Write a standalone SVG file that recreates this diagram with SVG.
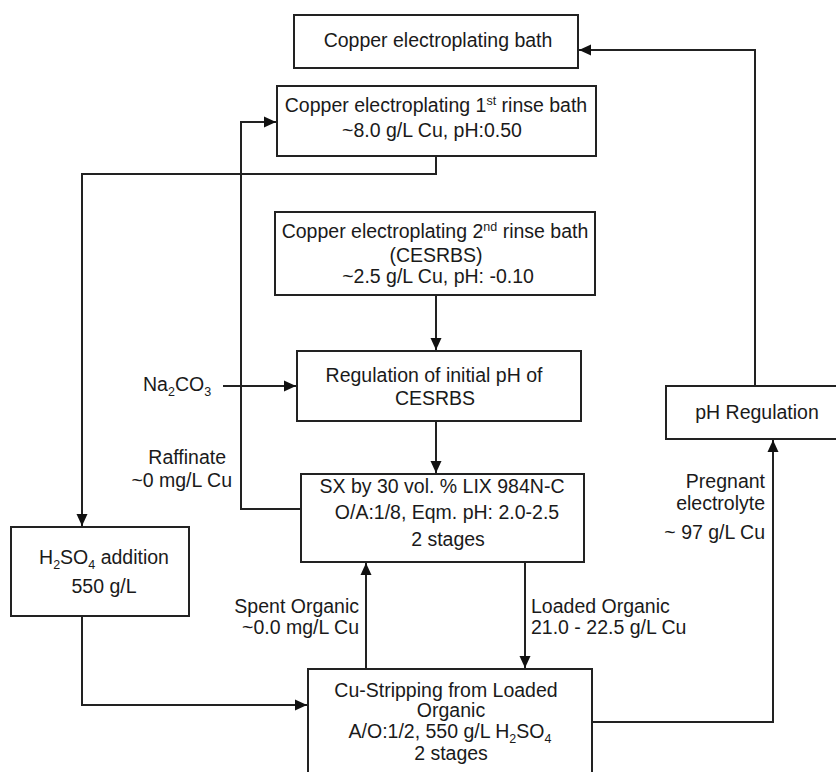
<svg xmlns="http://www.w3.org/2000/svg" width="836" height="772" viewBox="0 0 836 772">
<style>
.box{fill:#fff;stroke:#222;stroke-width:2}
.t{font-family:"Liberation Sans",Arial,sans-serif;font-size:19.5px;fill:#1a1a1a}
.c{text-anchor:middle}
.e{text-anchor:end}
.sm{font-size:12.5px}
.con{fill:none;stroke:#222;stroke-width:2}
</style>
<defs>
<marker id="ah" markerUnits="userSpaceOnUse" viewBox="0 0 12 12" refX="12" refY="6" markerWidth="12" markerHeight="12" orient="auto">
<path d="M0,0.5 L12,6 L0,11.5 z" fill="#111"/>
</marker>
</defs>
<rect width="836" height="772" fill="#fff"/>
<g id="connectors">
<polyline class="con" points="436,156 436,174 82,174 82,526" marker-end="url(#ah)"/>
<polyline class="con" points="82,616 82,705 307,705" marker-end="url(#ah)"/>
<polyline class="con" points="301,509 241,509 241,122 276,122" marker-end="url(#ah)"/>
<polyline class="con" points="436,295 436,350" marker-end="url(#ah)"/>
<polyline class="con" points="223,386 296,386" marker-end="url(#ah)"/>
<polyline class="con" points="436,421 436,473" marker-end="url(#ah)"/>
<polyline class="con" points="366,669 366,563" marker-end="url(#ah)"/>
<polyline class="con" points="525,562 525,668" marker-end="url(#ah)"/>
<polyline class="con" points="592,722 773,722 773,440" marker-end="url(#ah)"/>
<polyline class="con" points="755,386 755,50 579,50" marker-end="url(#ah)"/>
</g>
<g id="bath">
<rect class="box" x="294" y="15" width="284" height="53"/>
<text class="t c" x="438" y="47">Copper electroplating bath</text>
</g>
<g id="rinse1">
<rect class="box" x="277" y="86" width="319" height="70"/>
<text class="t c" x="436" y="112">Copper electroplating 1<tspan class="sm" dy="-7">st</tspan><tspan dy="7"> rinse bath</tspan></text>
<text class="t c" x="432" y="137">~8.0 g/L Cu, pH:0.50</text>
</g>
<g id="rinse2">
<rect class="box" x="275" y="212" width="320" height="83"/>
<text class="t c" x="435" y="238">Copper electroplating 2<tspan class="sm" dy="-7">nd</tspan><tspan dy="7"> rinse bath</tspan></text>
<text class="t c" x="436" y="262">(CESRBS)</text>
<text class="t c" x="438" y="283">~2.5 g/L Cu, pH: -0.10</text>
</g>
<g id="regulation">
<rect class="box" x="297" y="351" width="284" height="70"/>
<text class="t c" x="434" y="382">Regulation of initial pH of</text>
<text class="t c" x="435" y="405">CESRBS</text>
</g>
<g id="sx">
<rect class="box" x="301" y="474" width="283" height="88"/>
<text class="t c" x="442" y="493">SX by 30 vol. % LIX 984N-C</text>
<text class="t c" x="447" y="519">O/A:1/8, Eqm. pH: 2.0-2.5</text>
<text class="t c" x="448" y="546">2 stages</text>
</g>
<g id="phreg">
<rect class="box" x="666" y="386" width="182" height="53"/>
<text class="t c" x="757" y="419">pH Regulation</text>
</g>
<g id="h2so4">
<rect class="box" x="11" y="527" width="178" height="89"/>
<text class="t c" x="104" y="564">H<tspan class="sm" dy="5">2</tspan><tspan dy="-5">SO</tspan><tspan class="sm" dy="5">4</tspan><tspan dy="-5"> addition</tspan></text>
<text class="t c" x="104" y="593">550 g/L</text>
</g>
<g id="stripping">
<rect class="box" x="308" y="669" width="284" height="112"/>
<text class="t c" x="446" y="697">Cu-Stripping from Loaded</text>
<text class="t c" x="451" y="717">Organic</text>
<text class="t c" x="450" y="738">A/O:1/2, 550 g/L H<tspan class="sm" dy="5">2</tspan><tspan dy="-5">SO</tspan><tspan class="sm" dy="5">4</tspan></text>
<text class="t c" x="451" y="760">2 stages</text>
</g>
<g id="labels">
<text class="t" x="143" y="391">Na<tspan class="sm" dy="5">2</tspan><tspan dy="-5">CO</tspan><tspan class="sm" dy="5">3</tspan></text>
<text class="t e" x="226" y="464">Raffinate</text>
<text class="t e" x="232" y="487">~0 mg/L Cu</text>
<text class="t e" x="765" y="488">Pregnant</text>
<text class="t e" x="765" y="510">electrolyte</text>
<text class="t e" x="765" y="539">~ 97 g/L Cu</text>
<text class="t e" x="359" y="613">Spent Organic</text>
<text class="t e" x="359" y="634">~0.0 mg/L Cu</text>
<text class="t" x="531" y="613">Loaded Organic</text>
<text class="t" x="531" y="634">21.0 - 22.5 g/L Cu</text>
</g>
</svg>
